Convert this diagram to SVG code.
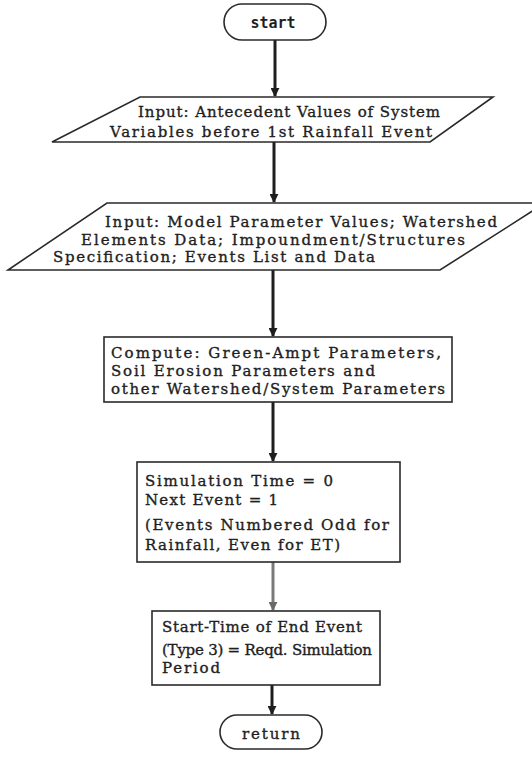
<svg xmlns="http://www.w3.org/2000/svg" width="532" height="757" viewBox="0 0 532 757">
  <style>
    .shape { fill: #ffffff; stroke: #2a2a2a; stroke-width: 1.6; }
    .txt { font-family: "DejaVu Serif", "Liberation Serif", serif; font-size: 15px; fill: #1e1e1e; stroke: #1e1e1e; stroke-width: 0.35; }
    .term { font-family: "DejaVu Sans Mono", "Liberation Mono", monospace; font-size: 15px; font-weight: bold; fill: #1e1e1e; text-anchor: middle; }
    .conn { stroke: #1e1e1e; stroke-width: 3; fill: none; }
    .conn.light { stroke: #7a7a7a; }
  </style>
  <defs>
    <marker id="arrow" viewBox="0 0 10 10" refX="9" refY="5" markerWidth="3" markerHeight="3" orient="auto" markerUnits="strokeWidth">
      <path d="M0,0 L10,5 L0,10 Z" fill="#1e1e1e"/>
    </marker>
    <marker id="arrowLight" viewBox="0 0 10 10" refX="9" refY="5" markerWidth="3" markerHeight="3" orient="auto" markerUnits="strokeWidth">
      <path d="M0,0 L10,5 L0,10 Z" fill="#6a6a6a"/>
    </marker>
  </defs>

  <rect width="532" height="757" fill="#ffffff"/>

  <!-- flow connectors -->
  <g id="connectors">
    <line class="conn" x1="275" y1="40" x2="275" y2="96" marker-end="url(#arrow)"/>
    <line class="conn" x1="274" y1="142" x2="274" y2="202" marker-end="url(#arrow)"/>
    <line class="conn" x1="273" y1="270" x2="273" y2="336" marker-end="url(#arrow)"/>
    <line class="conn" x1="273" y1="402" x2="273" y2="461" marker-end="url(#arrow)"/>
    <line class="conn light" x1="273" y1="562" x2="273" y2="610" marker-end="url(#arrowLight)"/>
    <line class="conn" x1="272" y1="685" x2="272" y2="714" marker-end="url(#arrow)"/>
  </g>

  <g id="start">
    <rect class="shape" x="224" y="4" width="102" height="36" rx="18"/>
    <text class="term" x="273" y="28">start</text>
  </g>

  <g id="input-antecedent">
    <polygon class="shape" points="140,97 493,97 430,142 52,142"/>
    <text class="txt" x="138" y="117" textLength="302" lengthAdjust="spacing">Input: Antecedent Values of System</text>
    <text class="txt" x="110" y="137" textLength="322" lengthAdjust="spacing">Variables before 1st Rainfall Event</text>
  </g>

  <g id="input-parameters">
    <polygon class="shape" points="107,203 545,203 440,270 8,270"/>
    <text class="txt" x="105" y="227" textLength="392" lengthAdjust="spacing">Input: Model Parameter Values; Watershed</text>
    <text class="txt" x="81" y="245" textLength="384" lengthAdjust="spacing">Elements Data; Impoundment/Structures</text>
    <text class="txt" x="53" y="262" textLength="322" lengthAdjust="spacing">Specification; Events List and Data</text>
  </g>

  <g id="compute">
    <rect class="shape" x="104" y="337" width="348" height="65"/>
    <text class="txt" x="111" y="358" textLength="330" lengthAdjust="spacing">Compute: Green-Ampt Parameters,</text>
    <text class="txt" x="111" y="376" textLength="264" lengthAdjust="spacing">Soil Erosion Parameters and</text>
    <text class="txt" x="111" y="394" textLength="334" lengthAdjust="spacing">other Watershed/System Parameters</text>
  </g>

  <g id="initialise">
    <rect class="shape" x="137" y="462" width="263" height="100"/>
    <text class="txt" x="145" y="486" textLength="188" lengthAdjust="spacing">Simulation Time = 0</text>
    <text class="txt" x="145" y="505" textLength="133" lengthAdjust="spacing">Next Event = 1</text>
    <text class="txt" x="145" y="530" textLength="244" lengthAdjust="spacing">(Events Numbered Odd for</text>
    <text class="txt" x="145" y="550" textLength="195" lengthAdjust="spacing">Rainfall, Even for ET)</text>
  </g>

  <g id="end-event">
    <rect class="shape" x="152" y="611" width="228" height="74"/>
    <text class="txt" x="162" y="632" textLength="200" lengthAdjust="spacing">Start-Time of End Event</text>
    <text class="txt" x="162" y="655" textLength="210" lengthAdjust="spacing">(Type 3) = Reqd. Simulation</text>
    <text class="txt" x="162" y="673" textLength="58" lengthAdjust="spacing">Period</text>
  </g>

  <g id="return">
    <rect class="shape" x="220" y="715" width="102" height="34" rx="17"/>
    <text class="txt" x="271" y="739" text-anchor="middle" textLength="58" lengthAdjust="spacing">return</text>
  </g>
</svg>
